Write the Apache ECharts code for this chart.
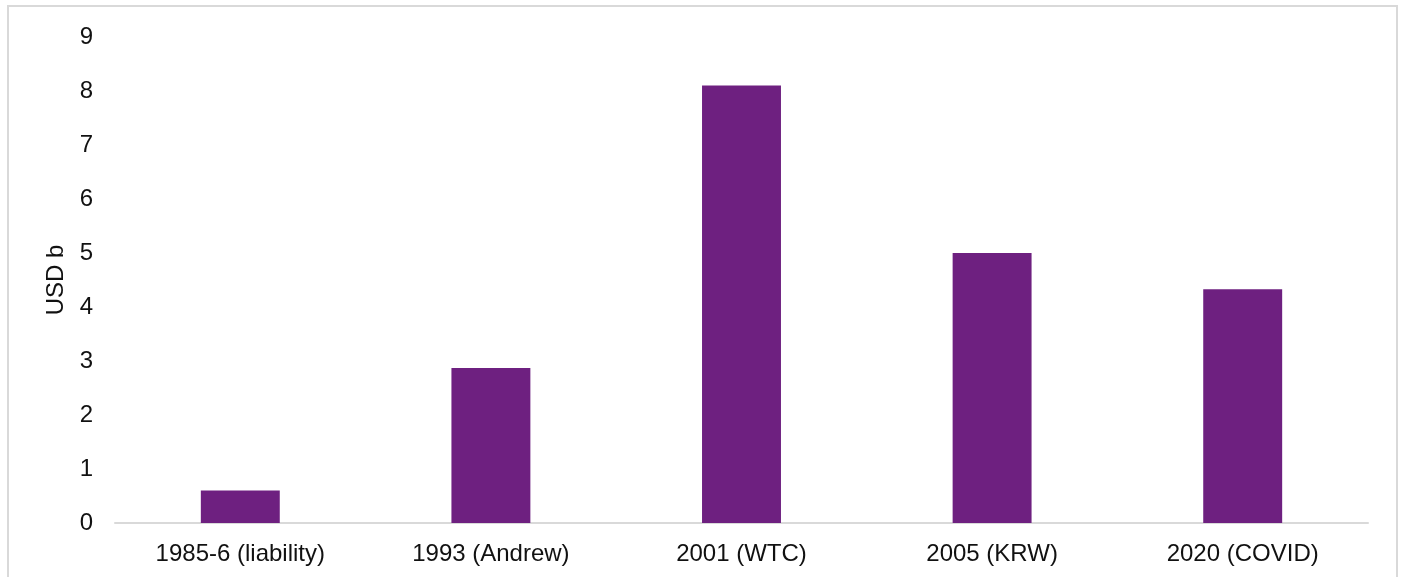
<!DOCTYPE html>
<html>
<head>
<meta charset="utf-8">
<script src="https://cdn.jsdelivr.net/npm/echarts@6/dist/echarts.min.js"></script>
<style>
html,body{margin:0;padding:0;background:#fff;}
#chart{width:1403px;height:577px;}
</style>
</head>
<body>
<div id="chart"></div>
<script>
const categories = ['1985-6 (liability)', '1993 (Andrew)', '2001 (WTC)', '2005 (KRW)', '2020 (COVID)'];
const values = [0.6, 2.87, 8.1, 5.0, 4.33];
const yTicks = [0, 1, 2, 3, 4, 5, 6, 7, 8, 9];
const yAxisName = 'USD b';

const chart = echarts.init(document.getElementById('chart'), null, {renderer: 'canvas'});
const font = '"Liberation Sans", Arial, sans-serif';
chart.setOption({
  animation: false,
  backgroundColor: '#fff',
  graphic: [{
    type: 'rect',
    shape: {x: 8, y: 6, width: 1389, height: 620},
    style: {fill: 'none', stroke: '#d9d9d9', lineWidth: 2},
    silent: true
  }],
  grid: {left: 115, right: 35, top: 37, bottom: 54, containLabel: false},
  xAxis: {
    type: 'category',
    data: categories,
    axisLine: {show: true, lineStyle: {color: '#d9d9d9', width: 2}},
    axisTick: {show: false},
    axisLabel: {color: '#111', fontSize: 24, fontFamily: font, margin: 19, interval: 0}
  },
  yAxis: {
    type: 'value',
    min: yTicks[0],
    max: yTicks[yTicks.length - 1],
    interval: 1,
    name: yAxisName,
    nameLocation: 'middle',
    nameGap: 46,
    nameTextStyle: {color: '#111', fontSize: 24, fontFamily: font},
    axisLine: {show: false},
    axisTick: {show: false},
    splitLine: {show: false},
    axisLabel: {color: '#111', fontSize: 24, fontFamily: font, margin: 22}
  },
  series: [{
    type: 'bar',
    data: values,
    barWidth: '31.5%',
    itemStyle: {color: '#6E2080'}
  }]
});
</script>
</body>
</html>
